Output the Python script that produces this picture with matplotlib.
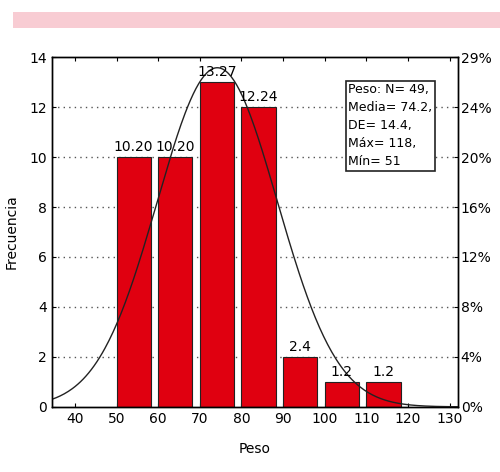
import numpy as np
import matplotlib.pyplot as plt
from matplotlib.patches import Rectangle

# histograma de Peso
bin_start = [50, 60, 70, 80, 90, 100, 110]
counts = [10, 10, 13, 12, 2, 1, 1]
bar_labels = ["10.20", "10.20", "13.27", "12.24", "2.4", "1.2", "1.2"]
x_ticks = [40, 50, 60, 70, 80, 90, 100, 110, 120, 130]
y_ticks = [0, 2, 4, 6, 8, 10, 12, 14]
pct_labels = ["0%", "4%", "8%", "12%", "16%", "20%", "24%", "29%"]
n_total = 49
media = 74.2
de = 14.4
bin_w = 10

fig = plt.figure(figsize=(5, 4.72), dpi=100)
fig.patches.append(Rectangle((0.026, 0.94), 0.974, 0.034, transform=fig.transFigure,
                             facecolor="#f8ccd3", edgecolor="none"))

ax = fig.add_axes([0.104, 0.138, 0.812, 0.741])
ax.set_xlim(34.5, 132)
ax.set_ylim(0, 14)

for y in y_ticks[1:-1]:
    ax.axhline(y, color="#555555", linestyle=(0, (1, 3)), linewidth=1.0, zorder=1)

ax.bar(bin_start, counts, width=8.2, align="edge", color="#e00010",
       edgecolor="#222222", linewidth=0.8, zorder=2)

for x, c, lab in zip(bin_start, counts, bar_labels):
    ax.text(x + 4.1, c + 0.12, lab, ha="center", va="bottom", fontsize=10, zorder=4)

xs = np.linspace(34.5, 132, 300)
ys = n_total * bin_w * np.exp(-0.5 * ((xs - media) / de) ** 2) / (de * np.sqrt(2 * np.pi))
ax.plot(xs, ys, color="#222222", linewidth=1.0, zorder=3)

ax.set_xticks(x_ticks)
ax.set_yticks(y_ticks)
ax.tick_params(direction="in", top=True, length=3, labelsize=10)
ax.set_xlabel("Peso", fontsize=10, labelpad=12)
ax.set_ylabel("Frecuencia", fontsize=10, labelpad=8)

ax2 = ax.twinx()
ax2.set_ylim(0, 14)
ax2.set_yticks(y_ticks)
ax2.set_yticklabels(pct_labels)
ax2.tick_params(direction="in", length=3, labelsize=10, pad=2)

for a in (ax, ax2):
    for s in a.spines.values():
        s.set_linewidth(1.0)

ax.text(0.73, 0.925, "Peso: N= 49,\nMedia= 74.2,\nDE= 14.4,\nMáx= 118,\nMín= 51",
        transform=ax.transAxes, ha="left", va="top", fontsize=9, linespacing=1.5,
        bbox=dict(boxstyle="square,pad=0.2", facecolor="white", edgecolor="#222222",
                  linewidth=1.2), zorder=5)

fig.savefig("out.png")
